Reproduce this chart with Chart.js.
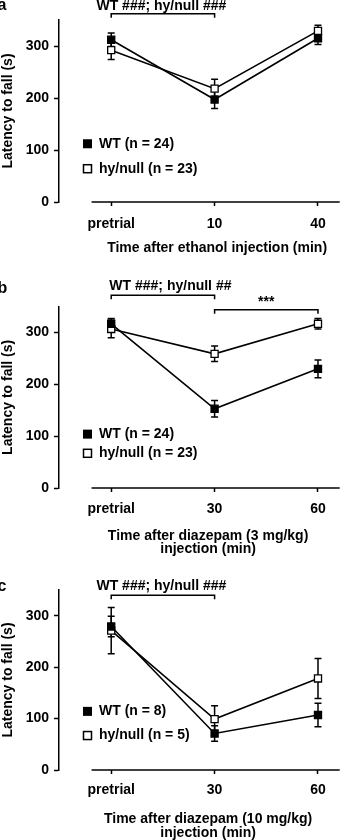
<!DOCTYPE html>
<html>
<head>
<meta charset="utf-8">
<script src="https://cdn.jsdelivr.net/npm/chart.js@4.4.1/dist/chart.umd.min.js"></script>
<style>
  body { margin: 0; background: #fff; width: 346px; height: 840px; overflow: hidden; }
  .panel { position: absolute; left: 0; width: 346px; height: 280px; }
</style>
</head>
<body>
<div class="panel" style="top:0px"><canvas id="panelA" width="346" height="280"></canvas></div>
<div class="panel" style="top:280px"><canvas id="panelB" width="346" height="280"></canvas></div>
<div class="panel" style="top:560px"><canvas id="panelC" width="346" height="280"></canvas></div>
<script>
// datos (latencia en s, media y error)
const yTicks = [0, 100, 200, 300];

const labelsA = ['pretrial', '10', '40'];
const wtA = [312, 197, 315];
const wtErrA = [13, 17, 12];
const hyA = [292, 218, 329];
const hyErrA = [18, 18, 11];

const labelsB = ['pretrial', '30', '60'];
const wtB = [317, 153, 230];
const wtErrB = [10, 16, 17];
const hyB = [307, 259, 317];
const hyErrB = [17, 15, 10];

const labelsC = ['pretrial', '30', '60'];
const wtC = [279, 71, 107];
const wtErrC = [20, 15, 23];
const hyC = [271, 99, 178];
const hyErrC = [45, 26, 39];

const FONT = 'Liberation Sans, Arial, Helvetica, sans-serif';
Chart.defaults.font.family = FONT;
Chart.defaults.font.weight = 'bold';
Chart.defaults.font.size = 14;
Chart.defaults.color = '#000';

// barras de error debajo de los marcadores
const errorBars = {
  id: 'errorBars',
  beforeDatasetsDraw(chart) {
    const ctx = chart.ctx, xs = chart.scales.x, ys = chart.scales.y;
    ctx.save();
    ctx.strokeStyle = '#000';
    ctx.lineWidth = 1.5;
    chart.data.datasets.forEach(ds => {
      ds.data.forEach((p, i) => {
        const x = xs.getPixelForValue(p.x);
        const y1 = ys.getPixelForValue(p.y + ds.err[i]);
        const y2 = ys.getPixelForValue(p.y - ds.err[i]);
        ctx.beginPath();
        ctx.moveTo(x, y1); ctx.lineTo(x, y2);
        ctx.moveTo(x - 3.5, y1); ctx.lineTo(x + 3.5, y1);
        ctx.moveTo(x - 3.5, y2); ctx.lineTo(x + 3.5, y2);
        ctx.stroke();
      });
    });
    ctx.restore();
  }
};

// eje x separado, titulo x, corchetes, leyenda y letra del panel
const extras = {
  id: 'extras',
  afterDraw(chart, args, opts) {
    const ctx = chart.ctx, xs = chart.scales.x, ys = chart.scales.y;
    const area = chart.chartArea;
    ctx.save();
    ctx.strokeStyle = '#000';
    ctx.fillStyle = '#000';
    ctx.lineWidth = 1.5;

    ctx.beginPath();
    ctx.moveTo(xs.getPixelForValue(opts.axisStart), area.bottom);
    ctx.lineTo(area.right, area.bottom);
    ctx.stroke();

    ctx.font = 'bold 14px ' + FONT;
    ctx.textBaseline = 'middle';
    ctx.textAlign = 'center';

    // titulo del eje x centrado bajo la categoria central
    const tx = xs.getPixelForValue(1) + opts.titleDx;
    opts.title.forEach((line, i) => {
      ctx.fillText(line, tx, area.bottom + opts.titleY[i]);
    });

    opts.brackets.forEach(b => {
      const x1 = xs.getPixelForValue(b.from), x2 = xs.getPixelForValue(b.to);
      const y = ys.getPixelForValue(b.y);
      ctx.beginPath();
      ctx.moveTo(x1, y + 4); ctx.lineTo(x1, y); ctx.lineTo(x2, y); ctx.lineTo(x2, y + 4);
      ctx.stroke();
      ctx.fillText(b.text, (x1 + x2) / 2 + b.dx, y - b.dy);
    });

    ctx.textAlign = 'left';
    chart.data.datasets.forEach((ds, i) => {
      const y = ys.getPixelForValue(opts.legendY[i]);
      const x = area.left + 28.5;
      if (ds.pointBackgroundColor === '#000') {
        ctx.fillRect(x - 4.5, y - 4.5, 9, 9);
      } else {
        ctx.fillStyle = '#fff';
        ctx.fillRect(x - 4, y - 4, 8, 8);
        ctx.fillStyle = '#000';
        ctx.strokeRect(x - 4, y - 4, 8, 8);
      }
      ctx.fillText(ds.label, x + 11.5, y);
    });

    ctx.font = 'bold 16px ' + FONT;
    ctx.textBaseline = 'alphabetic';
    ctx.fillText(opts.letter, -2.5, opts.letterY);
    ctx.restore();
  }
};

function serie(vals) {
  return vals.map((v, i) => ({x: i, y: v}));
}

function makePanel(id, cfg) {
  const tickFont = {family: FONT, size: 14, weight: 'bold', lineHeight: 1};
  return new Chart(id, {
    type: 'line',
    data: {
      datasets: [{
        label: cfg.wtLabel,
        data: serie(cfg.wt),
        err: cfg.wtErr,
        borderColor: '#000',
        borderWidth: 1.6,
        pointStyle: 'rect',
        pointRadius: 5,
        pointBorderWidth: 1.3,
        pointBorderColor: '#000',
        pointBackgroundColor: '#000',
        tension: 0
      }, {
        label: cfg.hyLabel,
        data: serie(cfg.hy),
        err: cfg.hyErr,
        borderColor: '#000',
        borderWidth: 1.6,
        pointStyle: 'rect',
        pointRadius: 5,
        pointBorderWidth: 1.3,
        pointBorderColor: '#000',
        pointBackgroundColor: '#fff',
        tension: 0
      }]
    },
    options: {
      responsive: false,
      animation: false,
      devicePixelRatio: 1,
      layout: {padding: {top: cfg.top, right: 2, left: 0, bottom: 0}},
      plugins: {
        legend: {display: false},
        tooltip: {enabled: false},
        extras: {
          axisStart: -0.19,
          title: cfg.title,
          titleY: cfg.titleY,
          titleDx: cfg.titleDx,
          brackets: cfg.brackets,
          legendY: cfg.legendY,
          letter: cfg.letter,
          letterY: cfg.letterY
        }
      },
      scales: {
        x: {
          type: 'linear',
          bounds: 'data',
          min: -0.505,
          max: 2.21,
          afterFit: s => { s.height = cfg.xh; },
          afterBuildTicks: s => { s.ticks = cfg.labels.map((l, i) => ({value: i})); },
          ticks: {
            callback: v => cfg.labels[v],
            maxRotation: 0,
            autoSkip: false,
            padding: cfg.tickPad,
            color: '#000',
            font: tickFont
          },
          grid: {drawOnChartArea: false, tickLength: 4, tickWidth: 1.5, tickColor: '#000'},
          border: {display: false},
          title: {display: false}
        },
        y: {
          bounds: 'data',
          min: 0,
          max: 350,
          afterFit: s => { s.width = 59; },
          afterBuildTicks: s => { s.ticks = yTicks.map(v => ({value: v})); },
          ticks: {padding: 5, color: '#000', font: tickFont},
          grid: {drawOnChartArea: false, tickLength: 5, tickWidth: 1.5, tickColor: '#000'},
          border: {display: true, color: '#000', width: 1.5},
          title: {
            display: true,
            text: 'Latency to fall (s)',
            color: '#000',
            font: tickFont,
            padding: {top: 1.5, bottom: 0}
          }
        }
      }
    },
    plugins: [errorBars, extras]
  });
}

makePanel('panelA', {
  labels: labelsA, wt: wtA, wtErr: wtErrA, hy: hyA, hyErr: hyErrA,
  wtLabel: 'WT (n = 24)', hyLabel: 'hy/null (n = 23)',
  title: ['Time after ethanol injection (min)'], titleY: [46], titleDx: 2.5,
  top: 20, xh: 78, tickPad: 11,
  letter: 'a', letterY: 10,
  legendY: [112, 64],
  brackets: [{from: 0, to: 1, y: 362, text: 'WT ###; hy/null ###', dx: -1.5, dy: 8}]
});

makePanel('panelB', {
  labels: labelsB, wt: wtB, wtErr: wtErrB, hy: hyB, hyErr: hyErrB,
  wtLabel: 'WT (n = 24)', hyLabel: 'hy/null (n = 23)',
  title: ['Time after diazepam (3 mg/kg)', 'injection (min)'], titleY: [48.5, 61.5], titleDx: -6.5,
  top: 26.7, xh: 72, tickPad: 10,
  letter: 'b', letterY: 13.3,
  legendY: [104, 67],
  brackets: [
    {from: 0, to: 1, y: 372, text: 'WT ###; hy/null ##', dx: 7.5, dy: 9.5},
    {from: 1, to: 2, y: 344, text: '***', dx: 0, dy: 8}
  ]
});

makePanel('panelC', {
  labels: labelsC, wt: wtC, wtErr: wtErrC, hy: hyC, hyErr: hyErrC,
  wtLabel: 'WT (n = 8)', hyLabel: 'hy/null (n = 5)',
  title: ['Time after diazepam (10 mg/kg)', 'injection (min)'], titleY: [49, 62.7], titleDx: -6.5,
  top: 30, xh: 70, tickPad: 9,
  letter: 'c', letterY: 30.7,
  legendY: [114, 67],
  brackets: [{from: 0, to: 1, y: 340, text: 'WT ###; hy/null ###', dx: -1.5, dy: 9.5}]
});
</script>
</body>
</html>
